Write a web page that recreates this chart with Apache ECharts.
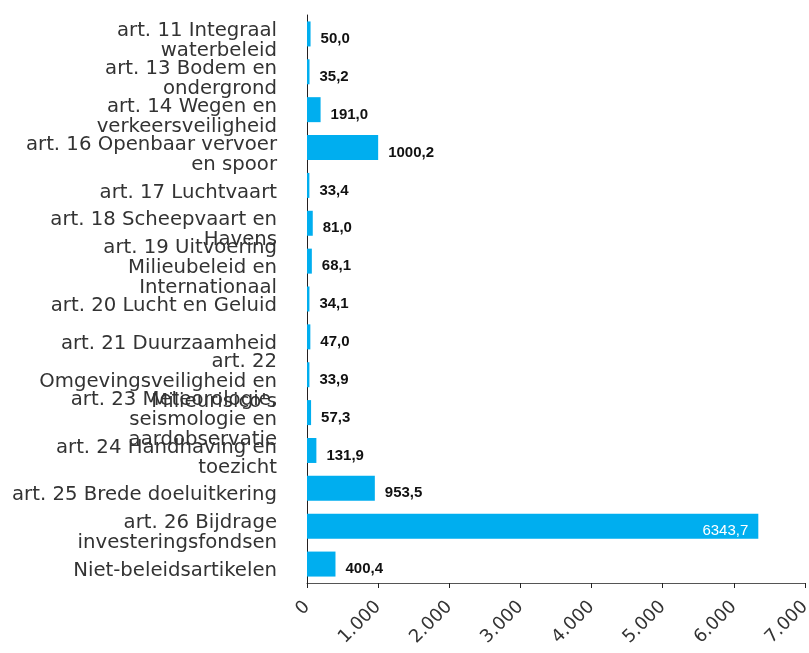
<!DOCTYPE html>
<html>
<head>
<meta charset="utf-8">
<script src="https://cdn.jsdelivr.net/npm/echarts@6/dist/echarts.min.js"></script>
<style>
  html, body { margin: 0; padding: 0; background: #fff; }
  #chart { width: 809px; height: 653px; }
</style>
</head>
<body>
<div id="chart"></div>
<script>
// categories (top to bottom), wrapped like the original
const categories = [
  'art. 11 Integraal\nwaterbeleid',
  'art. 13 Bodem en\nondergrond',
  'art. 14 Wegen en\nverkeersveiligheid',
  'art. 16 Openbaar vervoer\nen spoor',
  'art. 17 Luchtvaart',
  'art. 18 Scheepvaart en\nHavens',
  'art. 19 Uitvoering\nMilieubeleid en\nInternationaal',
  'art. 20 Lucht en Geluid',
  'art. 21 Duurzaamheid',
  'art. 22\nOmgevingsveiligheid en\nMilieurisico\'s',
  'art. 23 Meteorologie,\nseismologie en\naardobservatie',
  'art. 24 Handhaving en\ntoezicht',
  'art. 25 Brede doeluitkering',
  'art. 26 Bijdrage\ninvesteringsfondsen',
  'Niet-beleidsartikelen'
]
const values = [50.0, 35.2, 191.0, 1000.2, 33.4, 81.0, 68.1, 34.1, 47.0, 33.9, 57.3, 131.9, 953.5, 6343.7, 400.4]
const xTicks = [0, 1000, 2000, 3000, 4000, 5000, 6000, 7000]

const fmtVal = v => v.toFixed(1).replace('.', ',')
const fmtTick = v => String(v).replace(/\B(?=(\d{3})+(?!\d))/g, '.')

const chart = echarts.init(document.getElementById('chart'))

// largest bar gets its label inside, in white
const barData = values.map(v => {
  if (v > 5000) {
    return {
      value: v,
      label: {
        position: 'insideRight',
        color: '#fff',
        fontWeight: 'normal',
        fontSize: 15,
        distance: 10,
        offset: [0, 5]
      }
    }
  }
  return v
})

chart.setOption({
  animation: false,
  textStyle: { fontFamily: 'Liberation Sans, Arial, sans-serif' },
  grid: [
    { left: 307, right: 4, top: 15, bottom: 70, containLabel: false, outerBoundsMode: 'none' },
    // second grid only carries the category labels, a bit lower like the original
    { left: 307, right: 4, top: 22, bottom: 63, containLabel: false, outerBoundsMode: 'none' }
  ],
  xAxis: [{
    type: 'value',
    gridIndex: 0,
    min: xTicks[0],
    max: xTicks[xTicks.length - 1],
    interval: 1000,
    splitLine: { show: false },
    axisLine: { show: true, lineStyle: { color: '#555', width: 1 } },
    axisTick: { show: true, length: 5, lineStyle: { color: '#222' } },
    axisLabel: {
      rotate: 45,
      fontSize: 18,
      fontFamily: 'DejaVu Sans',
      color: '#333',
      margin: 21,
      formatter: fmtTick
    }
  }, {
    type: 'value',
    gridIndex: 1,
    show: false
  }],
  yAxis: [{
    type: 'category',
    gridIndex: 0,
    data: categories,
    inverse: true,
    axisLine: { show: true, lineStyle: { color: '#231f20', width: 1 } },
    axisTick: { show: false },
    axisLabel: { show: false }
  }, {
    type: 'category',
    gridIndex: 1,
    data: categories,
    inverse: true,
    axisLine: { show: false },
    axisTick: { show: false },
    axisLabel: {
      interval: 0,
      hideOverlap: false,
      showMinLabel: true,
      showMaxLabel: true,
      fontSize: 19.7,
      fontFamily: 'DejaVu Sans',
      color: '#333',
      lineHeight: 20,
      margin: 30,
      align: 'right'
    }
  }],
  series: [{
    type: 'bar',
    xAxisIndex: 0,
    yAxisIndex: 0,
    data: barData,
    barCategoryGap: '34%',
    itemStyle: { color: '#00aeef' },
    label: {
      show: true,
      position: 'right',
      distance: 10,
      offset: [0, 5],
      color: '#111',
      fontWeight: 'bold',
      fontSize: 15,
      formatter: p => fmtVal(p.value)
    }
  }]
})
</script>
</body>
</html>
